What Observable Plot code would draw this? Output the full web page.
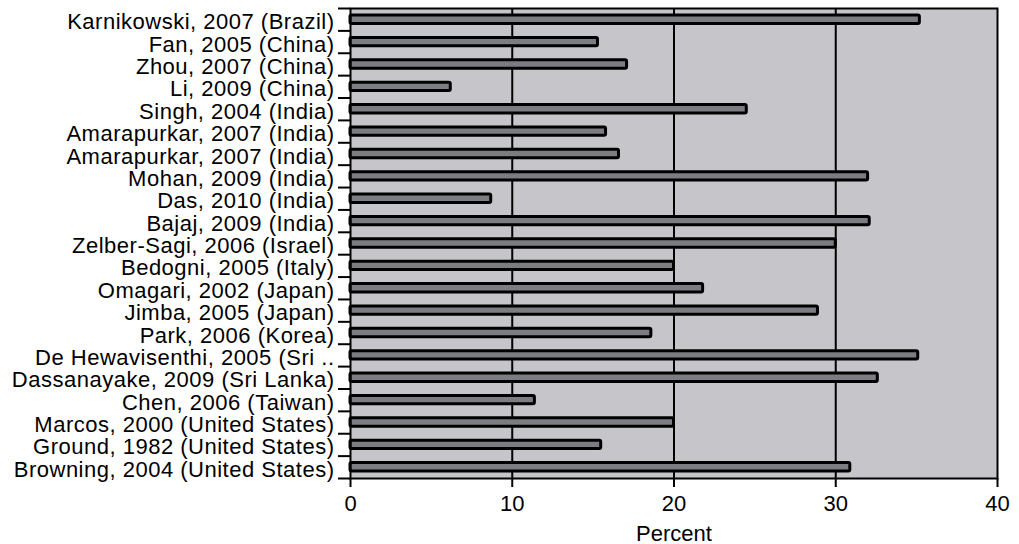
<!DOCTYPE html>
<html><head><meta charset="utf-8">
<script src="https://cdn.jsdelivr.net/npm/d3@7"></script>
<script src="https://cdn.jsdelivr.net/npm/@observablehq/plot@0.6"></script>
<style>
html,body{margin:0;padding:0;background:#fff} svg{display:block}
g[aria-label="y-axis tick label"] text{letter-spacing:0.5px}
</style>
</head><body><div id="chart"></div>
<script>
const labels = [
  "Karnikowski, 2007 (Brazil)",
  "Fan, 2005 (China)",
  "Zhou, 2007 (China)",
  "Li, 2009 (China)",
  "Singh, 2004 (India)",
  "Amarapurkar, 2007 (India)",
  "Amarapurkar, 2007 (India)",
  "Mohan, 2009 (India)",
  "Das, 2010 (India)",
  "Bajaj, 2009 (India)",
  "Zelber-Sagi, 2006 (Israel)",
  "Bedogni, 2005 (Italy)",
  "Omagari, 2002 (Japan)",
  "Jimba, 2005 (Japan)",
  "Park, 2006 (Korea)",
  "De Hewavisenthi, 2005 (Sri ..",
  "Dassanayake, 2009 (Sri Lanka)",
  "Chen, 2006 (Taiwan)",
  "Marcos, 2000 (United States)",
  "Ground, 1982 (United States)",
  "Browning, 2004 (United States)"
];
const values = [35.2, 15.3, 17.1, 6.2, 24.5, 15.8, 16.6, 32.0, 8.7, 32.1, 30.0, 20.0, 21.8, 28.9, 18.6, 35.1, 32.6, 11.4, 20.0, 15.5, 30.9];
const xTicks = [0, 10, 20, 30, 40];
const gridValues = [10, 20, 30];
const xLabel = "Percent";

const rows = labels.map((label, i) => ({i, label, value: values[i]}));
const centers = rows.map(d => d.i);
const boundaries = [...centers.map(i => i - 0.5), labels.length - 0.5];

const chart = Plot.plot({
  width: 1019, height: 544,
  marginLeft: 350, marginRight: 22, marginTop: 8, marginBottom: 66,
  style: {fontFamily: "'Liberation Sans', Arial, sans-serif", fontSize: "22px", color: "black", background: "white", overflow: "visible"},
  x: {domain: [0, 40]},
  y: {domain: [-0.5, labels.length - 0.5], reverse: true},
  marks: [
    Plot.frame({fill: "#c6c6ca"}),
    Plot.ruleX(gridValues, {stroke: "black", strokeWidth: 2}),
    Plot.rect(rows, {x1: 0, x2: "value", y1: d => d.i - 0.5, y2: d => d.i + 0.5, insetTop: 7, insetBottom: 7, fill: "#7c7c83", stroke: "black", strokeWidth: 3, rx: 1.5}),
    Plot.frame({stroke: "black", strokeWidth: 2}),
    Plot.axisX({ticks: xTicks, tickSize: 9, tickPadding: 8, strokeWidth: 2, fontSize: 22, label: xLabel, labelAnchor: "center", labelOffset: 62, labelArrow: "none"}),
    Plot.axisY({ticks: boundaries, tickSize: 12, strokeWidth: 2, text: null, label: null}),
    Plot.axisY({ticks: centers, tickSize: 0, tickPadding: 16, tickFormat: i => labels[i], fontSize: 22, dy: 2.5, label: null})
  ]
});
document.getElementById("chart").appendChild(chart);
</script>
</body></html>
